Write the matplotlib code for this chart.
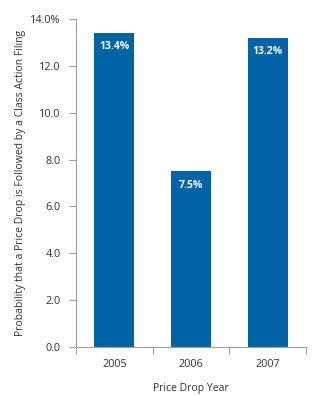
import matplotlib.pyplot as plt
from matplotlib.ticker import FixedLocator

years = ['2005', '2006', '2007']
probability = [13.4, 7.5, 13.2]
yticks = [0, 2, 4, 6, 8, 10, 12, 14]

bar_color = '#0063a6'
axis_color = '#a0a0a0'
text_color = '#333333'

plt.rcParams['font.family'] = ['Open Sans', 'DejaVu Sans']

fig = plt.figure(figsize=(3.25, 3.96), dpi=100)
ax = fig.add_axes([0.234, 0.124, 0.708, 0.828])

x = range(len(years))
bars = ax.bar(x, probability, width=0.52, color=bar_color)

for bar, val in zip(bars, probability):
    ax.annotate(f'{val:.1f}%', (bar.get_x() + bar.get_width() / 2, val),
                xytext=(0, -10), textcoords='offset points',
                ha='center', va='center', color='white',
                fontsize=7.5, fontweight='bold')

ax.set_xlim(-0.5, len(years) - 0.5)
ax.set_ylim(0, 14)

# category dividers as major ticks, year labels on minor ticks
ax.xaxis.set_major_locator(FixedLocator([i - 0.5 for i in range(len(years) + 1)]))
ax.xaxis.set_minor_locator(FixedLocator(list(x)))
ax.set_xticklabels([], minor=False)
ax.set_xticklabels(years, minor=True)
ax.tick_params(axis='x', which='major', length=5, color=axis_color)
ax.tick_params(axis='x', which='minor', length=0, pad=9,
               labelsize=7.8, labelcolor=text_color)

ax.set_yticks(yticks)
ax.set_yticklabels([f'{v:.1f}%' if v == 14 else f'{v:.1f}' for v in yticks])
ax.tick_params(axis='y', length=5, color=axis_color, pad=6,
               labelsize=7.8, labelcolor=text_color)

for side in ['top', 'right']:
    ax.spines[side].set_visible(False)
for side in ['left', 'bottom']:
    ax.spines[side].set_color(axis_color)
    ax.spines[side].set_linewidth(0.8)

ax.set_xlabel('Price Drop Year', fontsize=7.5, color=text_color, labelpad=9)
ax.set_ylabel('Probability that a Price Drop is Followed by a Class Action Filing',
              fontsize=7.5, color=text_color, labelpad=3)

fig.savefig('out.png', dpi=100)
